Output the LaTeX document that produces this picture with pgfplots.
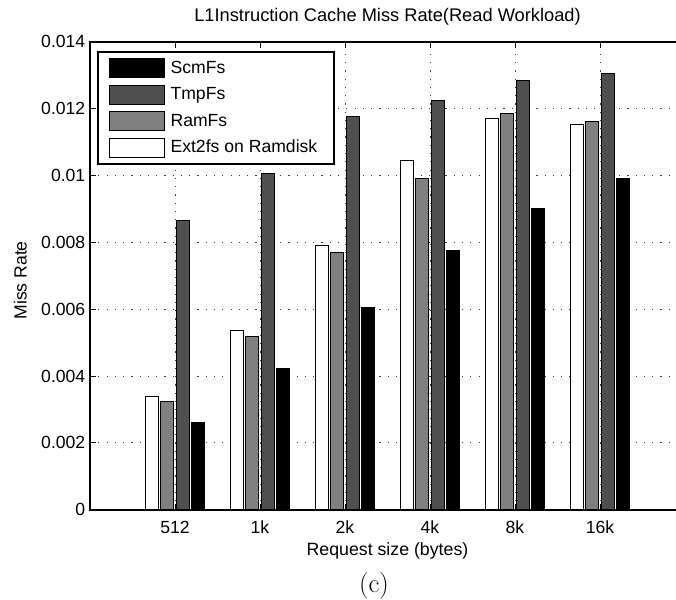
\documentclass[border=0pt]{standalone}
\usepackage{fontspec}
\setmainfont{Liberation Sans}
\newfontfamily\lmr{Latin Modern Roman}
\usepackage{pgfplots}
\pgfplotsset{compat=1.18}
\definecolor{tmpc}{HTML}{4F4F4F}
\definecolor{ramc}{HTML}{808080}
\begin{document}
\begin{tikzpicture}
\pgfplotsset{lg/.style={legend image code/.code={\draw[##1, line width=0.6pt] (0pt,-7.1pt) rectangle (41.25pt,7.1pt);}}}
\begin{axis}[
  at={(0,0)}, anchor=south west,
  scale only axis, width=446.25pt, height=351pt,
  xmin=0, xmax=7, ymin=0, ymax=0.014,
  enlargelimits=false,
  xtick={1,2,3,4,5,6},
  xticklabels={512,1k,2k,4k,8k,16k},
  ytick={0,0.002,0.004,0.006,0.008,0.010,0.012,0.014},
  yticklabels={0,0.002,0.004,0.006,0.008,0.01,0.012,0.014},
  scaled y ticks=false,
  tick label style={font=\fontsize{13.2}{15}\selectfont},
  xticklabel style={yshift=-5pt},
  grid=major,
  major grid style={black!75, line width=0.7pt, dash pattern=on 0.9pt off 5.3pt},
  axis line style={line width=1.4pt},
  tick style={black, line width=0.7pt},
  major tick length=4.5pt,
  tick align=inside,
  title={L1Instruction Cache Miss Rate(Read Workload)},
  title style={at={(axis description cs:0.5,1)}, anchor=base, yshift=9.5pt, font=\fontsize{13.7}{16}\selectfont},
  xlabel={Request size (bytes)},
  xlabel style={at={(axis description cs:0.5,0)}, anchor=base, yshift=-34.6pt, font=\fontsize{13.3}{16}\selectfont},
  ylabel={Miss Rate},
  ylabel style={at={(axis description cs:-0.1064,0.49)}, anchor=base, font=\fontsize{13.2}{16}\selectfont},
  reverse legend,
  legend cell align=left,
  legend style={at={(axis description cs:0.01227,0.9795)}, anchor=north west,
    draw=black, line width=1.2pt, fill=white,
    inner xsep=8pt, inner ysep=4.8pt, row sep=5pt, column sep=0pt,
    font=\fontsize{13.2}{16}\selectfont,
    nodes={inner sep=0pt, inner xsep=4.5pt}},
]
\addplot[ybar, bar width=0.153, bar shift=-0.2735, fill=white, draw=black, line width=0.6pt, lg]
  coordinates {(1,0.00338) (2,0.00536) (3,0.00790) (4,0.01044) (5,0.01170) (6,0.01154)};
\addlegendentry{Ext2fs on Ramdisk}
\addplot[ybar, bar width=0.153, bar shift=-0.0912, fill=ramc, draw=black, line width=0.6pt, lg]
  coordinates {(1,0.00324) (2,0.00519) (3,0.00769) (4,0.00990) (5,0.01185) (6,0.01162)};
\addlegendentry{RamFs}
\addplot[ybar, bar width=0.153, bar shift=0.0912, fill=tmpc, draw=black, line width=0.6pt, lg]
  coordinates {(1,0.00865) (2,0.01007) (3,0.01177) (4,0.01225) (5,0.01284) (6,0.01306)};
\addlegendentry{TmpFs}
\addplot[ybar, bar width=0.153, bar shift=0.2735, fill=black, draw=black, line width=0.6pt, lg]
  coordinates {(1,0.00262) (2,0.00422) (3,0.00604) (4,0.00775) (5,0.00902) (6,0.00990)};
\addlegendentry{ScmFs}
\end{axis}
\node[anchor=base, font=\lmr\fontsize{20}{24}\selectfont] at (213pt,-62.3pt) {(c)};
\pgfresetboundingbox
\path[use as bounding box] (-67.5pt,-67.725pt) rectangle (439.5pt,382.275pt);
\end{tikzpicture}
\end{document}
